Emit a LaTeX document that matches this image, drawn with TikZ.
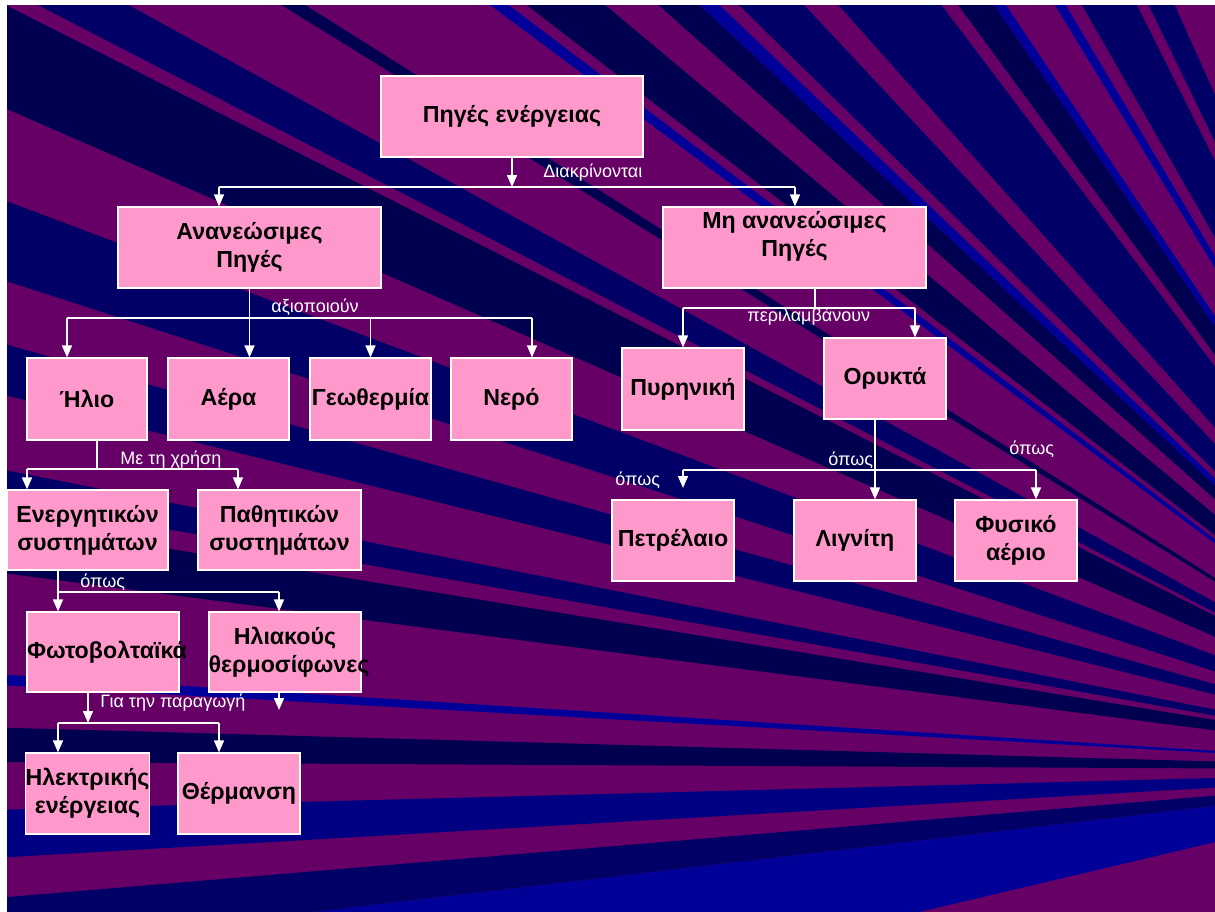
\documentclass[tikz,border=0pt]{standalone}
\usepackage{fontspec}
\setmainfont{Liberation Sans}
\usetikzlibrary{arrows.meta}
\definecolor{bgpurple}{RGB}{102,0,102}
\definecolor{raydark}{RGB}{0,0,80}
\definecolor{raynavy}{RGB}{0,0,102}
\definecolor{raymid}{RGB}{0,0,130}
\definecolor{rayblue}{RGB}{0,0,153}
\definecolor{boxpink}{RGB}{255,153,204}
\tikzset{
  box/.style 2 args={draw=white, line width=0.6pt, fill=boxpink, inner sep=0pt,
    font=\bfseries\fontsize{11.6}{14}\selectfont, align=center,
    minimum width=#1*0.5pt, minimum height=#2*0.5pt},
  wire/.style={draw=white, line width=0.7pt},
  arr/.style={wire, -{Triangle[length=6pt,width=5pt]}},
  lbl/.style={text=white, inner sep=0pt, anchor=west, font=\fontsize{9}{10}\selectfont}
}
\begin{document}
\begin{tikzpicture}[x=0.5pt,y=-0.5pt]
\useasboundingbox (0,0) rectangle (1215,911);
\fill[white] (0,0) rectangle (1215,911);
\begin{scope}
  \clip (7,5) rectangle (1230,925);
  \fill[bgpurple] (7,5) rectangle (1230,925);
  \foreach \a/\b/\c in {166.7/173.3/rayblue, 173.3/175.2/raynavy, 176.7/178.5/raymid,
      180.3/181.6/raydark, 183.2/183.6/rayblue, 187.4/189.3/raydark, 190.1/191.2/raynavy,
      193.9/195.7/raynavy, 197.9/200.6/raynavy, 203.6/206.8/raydark, 207.3/208.8/raynavy,
      211.7/212.2/raydark, 216.6/217.1/rayblue, 217.6/219.9/raydark, 221.6/223.0/raydark,
      223.0/223.7/rayblue, 224.4/226.9/raynavy, 228.3/232.9/raynavy, 233.7/235.5/raydark,
      235.5/236.1/rayblue, 238.7/239.3/rayblue, 240.2/243.4/raynavy, 244.1/245.7/raynavy}
    \fill[\c] (1520,770) -- +(\a:2400) -- +(\b:2400) -- cycle;
\end{scope}

\node[box={262}{81}] (src) at (512,116.5) {Πηγές ενέργειας};
\node[box={263}{81}] (ren) at (249.5,247.5) {Ανανεώσιμες\\Πηγές};
\node[box={263}{81}] (nren) at (794.5,247.5) {Μη ανανεώσιμες\\Πηγές\\{}};
\node[box={120}{82}] (sun) at (87,399) {Ήλιο};
\node[box={121}{82}] (air) at (228.5,399) {Αέρα};
\node[box={121}{82}] (geo) at (370.5,399) {Γεωθερμία};
\node[box={121}{82}] (water) at (511.5,399) {Νερό};
\node[box={122}{82}] (nuc) at (683,389) {Πυρηνική};
\node[box={122}{81}] (fos) at (885,378.5) {Ορυκτά};
\node[box={122}{81}] (oil) at (673,540.5) {Πετρέλαιο};
\node[box={122}{81}] (lig) at (855,540.5) {Λιγνίτη};
\node[box={122}{81}] (gas) at (1016,540.5) {Φυσικό\\αέριο};
\node[box={161}{80}] (act) at (87.5,530) {Ενεργητικών\\συστημάτων};
\node[box={163}{80}] (pas) at (279.5,530) {Παθητικών\\συστημάτων};
\node[box={152}{80}] (pv) at (103,652) {\makebox[0pt]{\hspace{4pt}Φωτοβολταϊκά}};
\node[box={152}{80}] (thermo) at (285,652) {Ηλιακούς\\\makebox[0pt]{\hspace{4pt}θερμοσίφωνες}};
\node[box={121}{81}] (elec) at (87.5,793.5) {Ηλεκτρικής\\ενέργειας};
\node[box={122}{81}] (heat) at (239,793.5) {Θέρμανση};

\coordinate (b1l) at (219,187);
\coordinate (b1r) at (795,187);
\draw[arr] (src.south) -- (src.south |- b1l);
\draw[wire] (b1l) -- (b1r);
\draw[arr] (b1l) -- (b1l |- ren.north);
\draw[arr] (b1r) -- (b1r |- nren.north);
\node[lbl] (l1) at (543,173) {Διακρίνονται};

\coordinate (b2l) at (67,318);
\coordinate (b2r) at (532,318);
\draw[arr] (ren.south) -- (ren.south |- air.north);
\draw[wire] (b2l) -- (b2r);
\draw[arr] (b2l) -- (b2l |- sun.north);
\draw[arr] (geo.north |- b2l) -- (geo.north);
\draw[arr] (b2r) -- (b2r |- water.north);
\node[lbl] (l2) at (271,307) {αξιοποιούν};

\coordinate (b3m) at (815,308);
\coordinate (b3l) at (683,308);
\coordinate (b3r) at (915,308);
\draw[wire] (b3m |- nren.south) -- (b3m);
\draw[wire] (b3l) -- (b3r);
\draw[arr] (b3l) -- (nuc.north);
\draw[arr] (b3r) -- (b3r |- fos.north);
\node[lbl] (l3) at (747,317) {περιλαμβάνουν};

\coordinate (b4m) at (875,470);
\coordinate (b4l) at (683,470);
\coordinate (b4r) at (1036,470);
\coordinate (oilend) at (683,488);
\draw[arr] (b4m |- fos.south) -- (b4m |- lig.north);
\draw[wire] (b4l) -- (b4r);
\draw[arr] (b4l) -- (oilend);
\draw[arr] (b4r) -- (b4r |- gas.north);
\node[lbl] (l4) at (615,480) {όπως};
\node[lbl] (l5) at (828,460) {όπως};
\node[lbl] (l6) at (1009,449) {όπως};

\coordinate (b5m) at (97,469);
\coordinate (b5l) at (27,469);
\coordinate (b5r) at (238,469);
\draw[wire] (b5m |- sun.south) -- (b5m);
\draw[wire] (b5l) -- (b5r);
\draw[arr] (b5l) -- (b5l |- act.north);
\draw[arr] (b5r) -- (b5r |- pas.north);
\node[lbl] (l7) at (120,460) {Με τη χρήση};

\coordinate (b6l) at (58,592);
\coordinate (b6r) at (279,592);
\draw[wire] (b6l |- act.south) -- (b6l);
\draw[wire] (b6l) -- (b6r);
\draw[arr] (b6l) -- (b6l |- pv.north);
\draw[arr] (b6r) -- (b6r |- thermo.north);
\node[lbl] (l8) at (80,582) {όπως};

\coordinate (b7m) at (88,723);
\coordinate (b7l) at (58,723);
\coordinate (b7r) at (219,723);
\coordinate (thend) at (279,710);
\draw[arr] (b7m |- pv.south) -- (b7m);
\draw[wire] (b7l) -- (b7r);
\draw[arr] (b7l) -- (b7l |- elec.north);
\draw[arr] (b7r) -- (b7r |- heat.north);
\draw[arr] (thend |- thermo.south) -- (thend);
\node[lbl] (l9) at (100,703) {Για την παραγωγή};
\end{tikzpicture}
\end{document}
